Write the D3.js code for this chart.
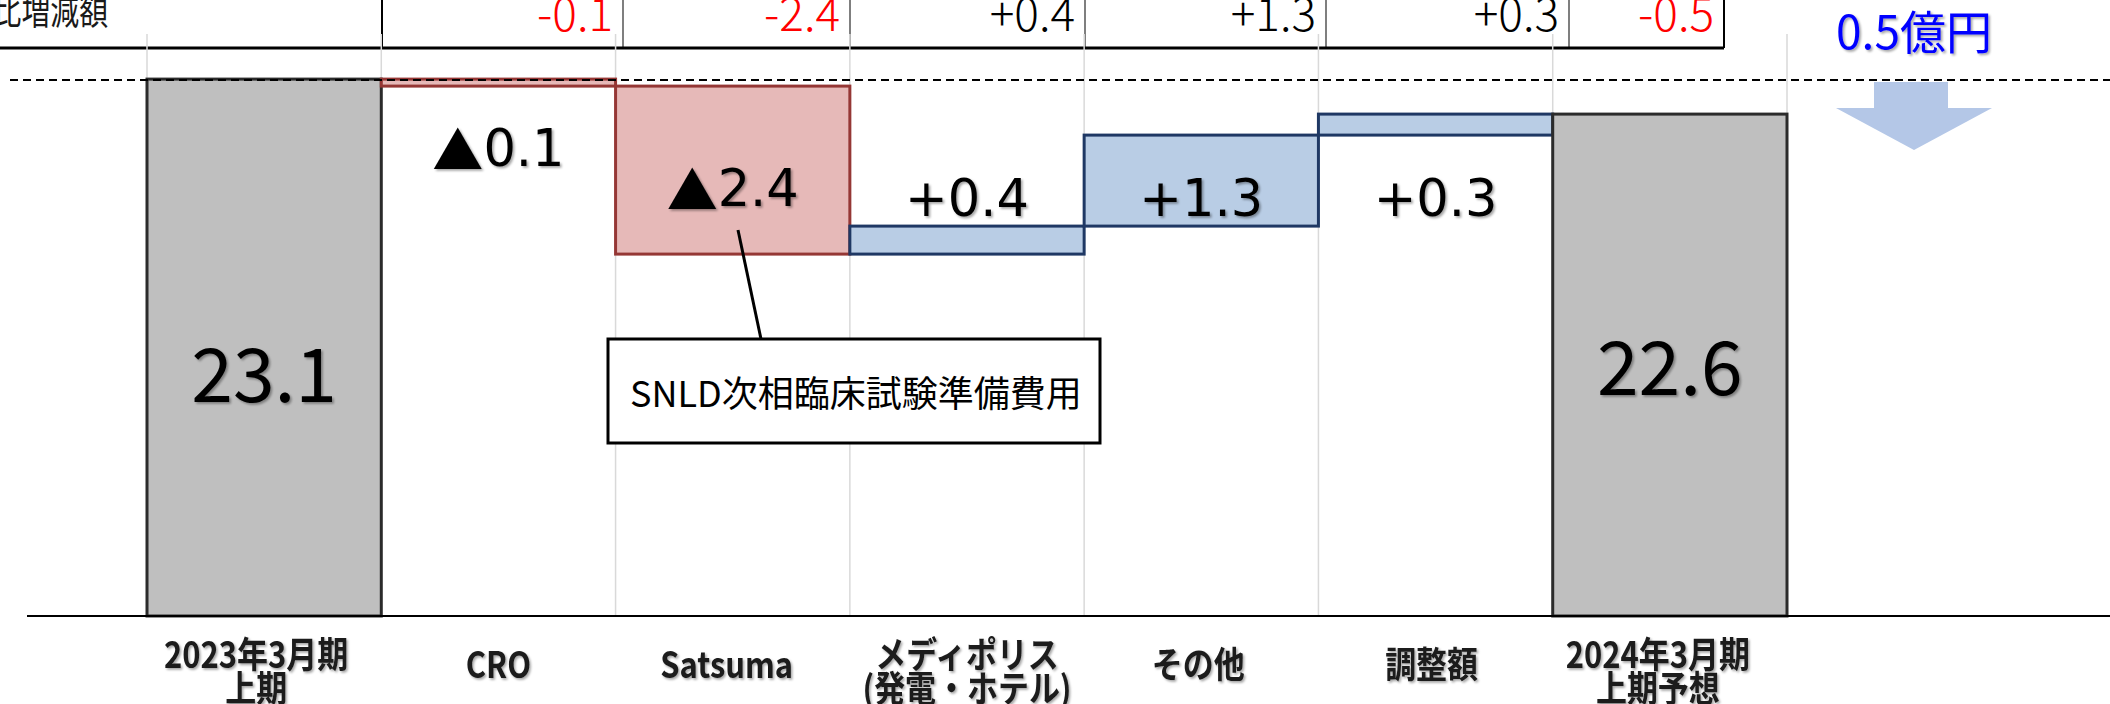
<!DOCTYPE html>
<html>
<head>
<meta charset="utf-8">
<script src="https://cdn.jsdelivr.net/npm/d3@7"></script>
<style>
  html, body { margin: 0; padding: 0; background: #fff; }
  svg { display: block; }
</style>
</head>
<body>
<svg id="chart" width="2110" height="704"></svg>
<script>
// 上期 営業利益の増減要因 (億円) — waterfall from 2023年3月期 to 2024年3月期予想
const categories = ["2023年3月期\n上期", "CRO", "Satsuma", "メディポリス\n(発電・ホテル)", "その他", "調整額", "2024年3月期\n上期予想"];
const startTotal = 23.1;
const endTotal = 22.6;
const deltas = [-0.1, -2.4, 0.4, 1.3, 0.3];
const tableDiffs = [-0.1, -2.4, 0.4, 1.3, 0.3, -0.5];
const tableHeader = "前期比増減額";
const noteText = "SNLD次相臨床試験準備費用";
const changeText = "0.5億円";

// ---- layout ----
const W = 2110, H = 704;
const axisY = 616;
const svg = d3.select("#chart");

const defs = svg.append("defs");
const shadow = defs.append("filter").attr("id", "shadow")
  .attr("x", "-10%").attr("y", "-20%").attr("width", "130%").attr("height", "150%");
shadow.append("feDropShadow")
  .attr("dx", 1.8).attr("dy", 1.8).attr("stdDeviation", 1.3)
  .attr("flood-color", "#000").attr("flood-opacity", 0.35);

const x = d3.scaleBand().domain(categories).range([147, 1787]).padding(0);
// value axis is cut: the floor of the plot sits at 15.43
const y = d3.scaleLinear().domain([15.43, 24.23]).range([axisY, 0]);
const floorValue = y.domain()[0];

// waterfall steps
const steps = [];
steps.push({ cat: categories[0], v0: floorValue, v1: startTotal, kind: "total", value: startTotal });
let running = startTotal;
deltas.forEach((d, i) => {
  steps.push({ cat: categories[i + 1], v0: running, v1: running + d, kind: d < 0 ? "down" : "up", value: d });
  running += d;
});
steps.push({ cat: categories[6], v0: floorValue, v1: endTotal, kind: "total", value: endTotal });

const fills = { total: "#bfbfbf", down: "#e6b9b8", up: "#b9cde5" };
const strokes = { total: "#2b2b2b", down: "#953735", up: "#1f3864" };

// ---- table row of differences ----
const colEdges = [382, 623, 850, 1085, 1326, 1569, 1724];
const table = svg.append("g").attr("class", "diff-table");
table.append("text")
  .attr("transform", "translate(108,24) scale(0.76,1)")
  .attr("text-anchor", "end")
  .style("font-family", "'Noto Sans CJK JP', sans-serif")
  .style("font-size", "38px")
  .attr("fill", "#1a1a1a")
  .text(tableHeader);
table.selectAll("line.col").data(colEdges).join("line")
  .attr("class", "col")
  .attr("x1", d => d).attr("x2", d => d)
  .attr("y1", 0).attr("y2", 48)
  .attr("stroke", (d, i) => (i === 0 || i === colEdges.length - 1) ? "#000" : "#7f7f7f")
  .attr("stroke-width", 2);
const fmtDiff = v => (v > 0 ? "+" : "-") + Math.abs(v).toFixed(1);
table.selectAll("text.diff").data(tableDiffs).join("text")
  .attr("class", "diff")
  .attr("x", (d, i) => colEdges[i + 1] - 10)
  .attr("y", 31)
  .attr("text-anchor", "end")
  .style("font-family", "'Noto Sans CJK JP', sans-serif")
  .style("font-weight", 300)
  .style("font-size", "46px")
  .attr("fill", d => d < 0 ? "#ff0000" : "#000")
  .text(fmtDiff);

// ---- vertical gridlines on category boundaries ----
const edges = d3.range(categories.length + 1).map(i => x.range()[0] + i * x.bandwidth());
svg.append("g").selectAll("line").data(edges).join("line")
  .attr("x1", d => d).attr("x2", d => d)
  .attr("y1", 34).attr("y2", axisY)
  .attr("stroke", "#d9d9d9").attr("stroke-width", 1.5);

table.append("line")
  .attr("x1", 0).attr("x2", colEdges[colEdges.length - 1])
  .attr("y1", 48).attr("y2", 48)
  .attr("stroke", "#000").attr("stroke-width", 3);

// ---- bars ----
svg.append("g").selectAll("rect").data(steps).join("rect")
  .attr("x", d => x(d.cat))
  .attr("width", x.bandwidth())
  .attr("y", d => y(Math.max(d.v0, d.v1)))
  .attr("height", d => Math.abs(y(d.v0) - y(d.v1)))
  .attr("fill", d => fills[d.kind])
  .attr("stroke", d => strokes[d.kind])
  .attr("stroke-width", 3);

// reference line at the starting level
svg.append("line")
  .attr("x1", 10).attr("x2", W)
  .attr("y1", y(startTotal) + 1).attr("y2", y(startTotal) + 1)
  .attr("stroke", "#000").attr("stroke-width", 2)
  .attr("stroke-dasharray", "8,5");

// ---- value labels ----
const totalLabelY = [369, 362];
svg.append("g").selectAll("text").data(steps.filter(d => d.kind === "total")).join("text")
  .attr("x", d => x(d.cat) + x.bandwidth() / 2)
  .attr("y", (d, i) => totalLabelY[i])
  .attr("text-anchor", "middle")
  .attr("dominant-baseline", "central")
  .style("font-family", "'Noto Sans CJK JP', sans-serif")
  .style("font-size", "75px")
  .attr("fill", "#000")
  .attr("filter", "url(#shadow)")
  .text(d => d.value.toFixed(1));

const deltaLabelY = [148, 188, 198, 198, 198];
const deltaSteps = steps.filter(d => d.kind !== "total");
const dl = svg.append("g").selectAll("text").data(deltaSteps).join("text")
  .attr("x", d => x(d.cat) + x.bandwidth() / 2)
  .attr("y", (d, i) => deltaLabelY[i])
  .attr("text-anchor", "middle")
  .attr("dominant-baseline", "central")
  .style("font-family", "'DejaVu Sans', sans-serif")
  .style("font-size", "51px")
  .attr("fill", "#000")
  .attr("filter", "url(#shadow)");
dl.each(function(d) {
  const t = d3.select(this);
  if (d.value < 0) {
    t.append("tspan").style("font-family", "'Noto Sans CJK JP', sans-serif").text("▲");
    t.append("tspan").text(Math.abs(d.value).toFixed(1));
  } else {
    t.append("tspan").text("+" + d.value.toFixed(1));
  }
});

// ---- callout for the Satsuma decrease ----
svg.append("line")
  .attr("x1", 738).attr("y1", 230).attr("x2", 761).attr("y2", 339)
  .attr("stroke", "#000").attr("stroke-width", 3);
svg.append("rect")
  .attr("x", 608).attr("y", 339).attr("width", 492).attr("height", 104)
  .attr("fill", "#fff").attr("stroke", "#000").attr("stroke-width", 3);
svg.append("text")
  .attr("x", 630).attr("y", 391)
  .attr("dominant-baseline", "central")
  .style("font-family", "'Noto Sans CJK JP', sans-serif")
  .style("font-size", "36px")
  .attr("fill", "#000")
  .text(noteText);

// ---- overall change arrow ----
const ax = 1914, aTop = y(startTotal) + 3, aNeck = 108, aTip = 150;
svg.append("polygon")
  .attr("points", [
    [ax - 40, aTop], [ax + 34, aTop], [ax + 34, aNeck], [ax + 78, aNeck],
    [ax, aTip], [ax - 78, aNeck], [ax - 40, aNeck]
  ].map(p => p.join(",")).join(" "))
  .attr("fill", "#b4c7e7");
svg.append("text")
  .attr("x", ax).attr("y", 49)
  .attr("text-anchor", "middle")
  .style("font-family", "'Noto Sans CJK JP', sans-serif")
  .style("font-size", "46px")
  .attr("fill", "#0000ff")
  .attr("filter", "url(#shadow)")
  .text(changeText);

// ---- category axis ----
const labelShift = [-8, 0, -6, 0, -3, -4, -12];
const axis = svg.append("g")
  .attr("transform", `translate(0,${axisY})`)
  .call(d3.axisBottom(x).tickSize(0).tickPadding(0));
axis.select(".domain").remove();
axis.selectAll(".tick text").each(function(d, i) {
  const t = d3.select(this);
  const lines = d.split("\n");
  t.text(null)
    .attr("y", null).attr("dy", null)
    .attr("transform", `translate(${labelShift[i]},0) scale(0.86,1)`)
    .attr("x", 0)
    .attr("fill", "#1a1a1a")
    .attr("filter", "url(#shadow)")
    .style("font-family", "'Noto Sans CJK JP', sans-serif")
    .style("font-weight", 700)
    .style("font-size", "36px");
  const base = lines.length === 1 ? 62 : 52;
  lines.forEach((ln, k) => {
    t.append("tspan").attr("x", 0).attr("y", base + k * 34).text(ln);
  });
});
svg.append("line")
  .attr("x1", 27).attr("x2", W)
  .attr("y1", axisY).attr("y2", axisY)
  .attr("stroke", "#000").attr("stroke-width", 2);
</script>
</body>
</html>
